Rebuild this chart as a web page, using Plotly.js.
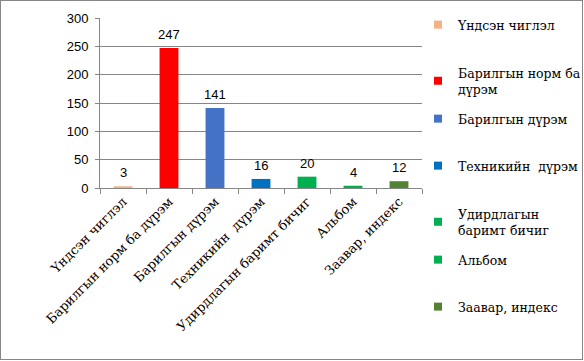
<!DOCTYPE html>
<html>
<head>
<meta charset="utf-8">
<script src="https://cdn.plot.ly/plotly-3.0.1.min.js"></script>
<style>
html,body{margin:0;padding:0;background:#fff;}
#wrap{position:relative;width:584px;height:361px;}
#chart{position:absolute;left:0;top:0;width:584px;height:361px;}
#frame{position:absolute;left:0;top:0;width:583px;height:360px;box-sizing:border-box;border:1px solid #868686;pointer-events:none;}
</style>
</head>
<body>
<div id="wrap"><div id="chart"></div><div id="frame"></div></div>
<script>
// Data
var categories = ["Үндсэн чиглэл", "Барилгын норм ба дүрэм", "Барилгын дүрэм", "Техникийн  дүрэм", "Удирдлагын баримт бичиг", "Альбом", "Заавар, индекс"];
var legendLabels = ["Үндсэн чиглэл", "Барилгын норм ба<br>дүрэм", "Барилгын дүрэм", "Техникийн  дүрэм", "Удирдлагын<br>баримт бичиг", "Альбом", "Заавар, индекс"];
var values = [3, 247, 141, 16, 20, 4, 12];
var colors = ["#F4B183", "#FF0000", "#4472C4", "#0070C0", "#00B050", "#00B050", "#548235"];
var yTicks = [0, 50, 100, 150, 200, 250, 300];

// Legend entry vertical centres (px from top)
var legendY = [25, 81, 119, 166, 222, 260, 307];

var SERIF = "DejaVu Serif";
var SANS = "Liberation Sans";

var traces = [{
  type: "bar",
  x: categories,
  y: values,
  marker: {color: colors},
  width: 0.41,
  showlegend: false,
  hoverinfo: "x+y"
}];

var layout = {
  width: 584,
  height: 361,
  margin: {l: 100, r: 162, t: 18, b: 173, autoexpand: false},
  paper_bgcolor: "#ffffff",
  plot_bgcolor: "#ffffff",
  showlegend: true,
  xaxis: {
    type: "category",
    categoryorder: "array",
    categoryarray: categories,
    tickangle: -45,
    tickson: "boundaries",
    ticks: "outside",
    ticklen: 5,
    tickcolor: "#868686",
    showline: true,
    linecolor: "#868686",
    linewidth: 1,
    showgrid: false,
    zeroline: false,
    tickfont: {family: SERIF, size: 13, color: "#000"}
  },
  yaxis: {
    range: [0, 300],
    tickvals: yTicks,
    ticks: "outside",
    ticklen: 4,
    tickcolor: "#868686",
    showline: true,
    linecolor: "#868686",
    linewidth: 1,
    showgrid: true,
    gridcolor: "#868686",
    gridwidth: 1,
    zeroline: false,
    ticklabelstandoff: 4,
    tickfont: {family: SANS, size: 13, color: "#000"}
  },
  annotations: [],
  font: {family: SERIF, size: 12.5, color: "#000"}
};

categories.forEach(function (c, i) {
  layout.annotations.push({
    x: c, y: values[i], xref: "x", yref: "y",
    text: String(values[i]),
    showarrow: false,
    yanchor: "bottom",
    yshift: 4,
    font: {family: SANS, size: 13, color: "#000"}
  });
  var name = i === 0 ? "legend" : "legend" + (i + 1);
  traces.push({
    type: "scatter",
    mode: "markers",
    x: [null],
    y: [null],
    name: legendLabels[i],
    legend: name,
    marker: {symbol: "square", size: 8, color: colors[i]},
    hoverinfo: "skip"
  });
  layout[name] = {
    xref: "container",
    yref: "container",
    x: 418 / 584,
    xanchor: "left",
    y: 1 - legendY[i] / 361,
    yanchor: "middle",
    bgcolor: "rgba(0,0,0,0)",
    borderwidth: 0,
    font: {family: SERIF, size: 12.5, color: "#000"}
  };
});

Plotly.newPlot("chart", traces, layout, {displayModeBar: false, staticPlot: true});
</script>
</body>
</html>
